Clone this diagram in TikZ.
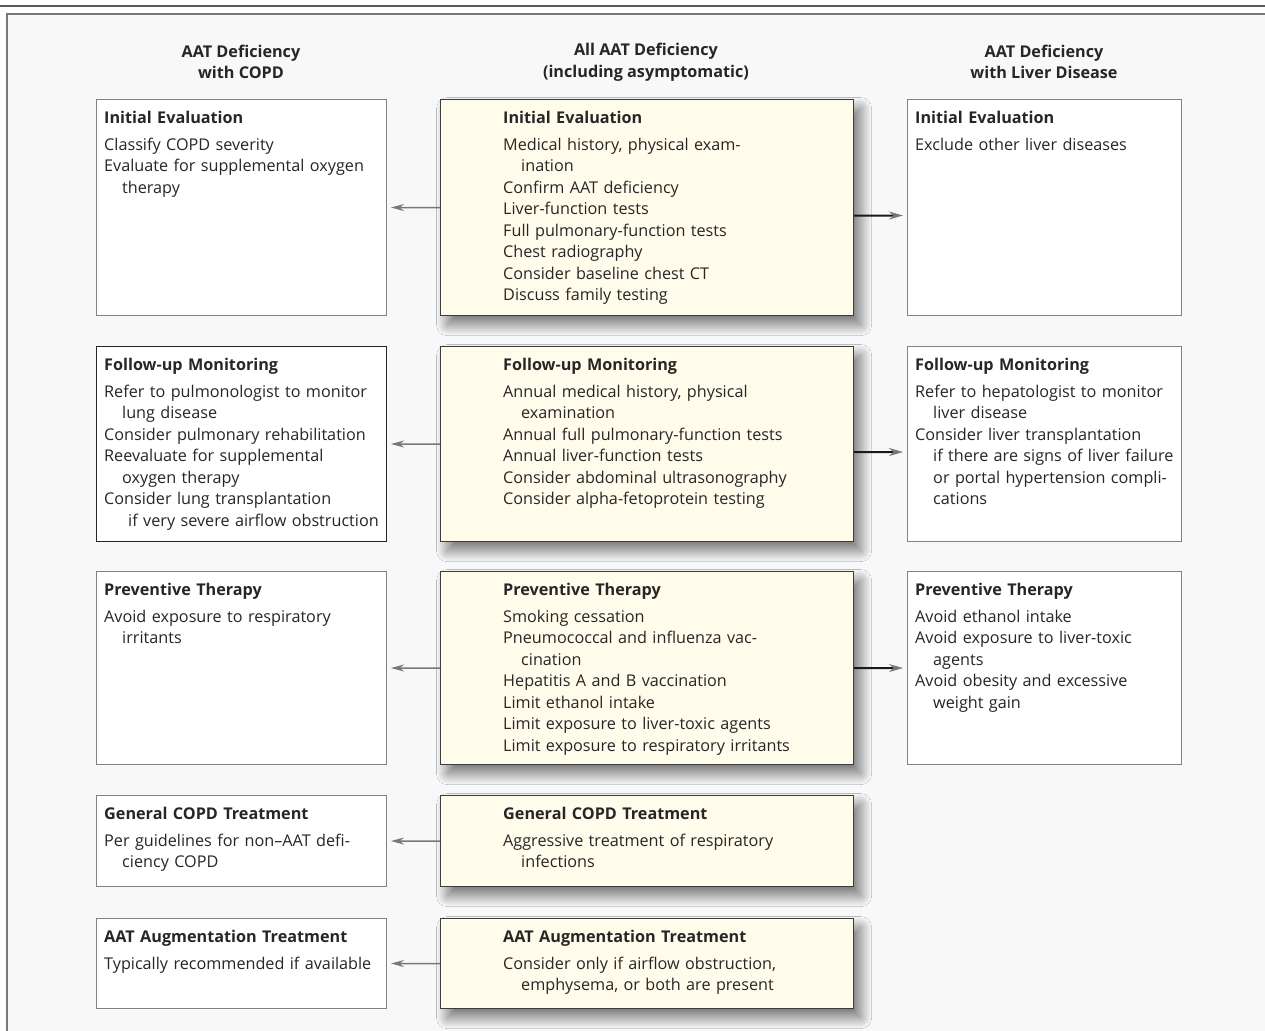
\documentclass[tikz,border=0pt]{standalone}
\usepackage{fontspec}
\setmainfont{Open Sans}
\usetikzlibrary{arrows.meta,calc,shadows.blur}
\definecolor{cream}{RGB}{255,252,236}
\definecolor{framebg}{RGB}{248,248,248}
\definecolor{linegray}{RGB}{120,120,120}
\definecolor{boxgray}{RGB}{130,130,130}
\definecolor{darkline}{RGB}{60,60,60}
\newcommand\itm[1]{\hangindent=18pt\hangafter=1 #1\par}
\newcommand\ttl[1]{\textbf{\strut #1}\par\vspace{5.5pt}}
\tikzset{
  sidebox/.style={draw=boxgray, line width=1pt, fill=white, inner sep=0pt, anchor=north west},
  midbox/.style={draw=darkline, line width=1.2pt, fill=cream, inner sep=0pt, anchor=north west,
     blur shadow={shadow xshift=7pt, shadow yshift=-9pt, shadow blur radius=11pt, shadow opacity=55, shadow blur steps=40}},
  txt/.style={anchor=north west, inner sep=0pt, text width=#1, align=left,
     font=\fontsize{16.2}{21.5}\selectfont, text=black!85},
  txt/.default=300pt,
  hdr/.style={align=center, inner sep=0pt, font=\bfseries\fontsize{16.2}{21.5}\selectfont, text=black!85},
  larrow/.style={draw=linegray, line width=1.5pt, -{Stealth[length=13pt,width=7pt,color=linegray]}},
  rarrow/.style={draw=black!90, line width=2pt, -{Stealth[length=14pt,width=8pt,color=linegray]}},
}
\begin{document}
\begin{tikzpicture}[x=1pt,y=-1pt]
\useasboundingbox (0,0) rectangle (1265,1030);
\fill[white] (0,0) rectangle (1265,1030);
\draw[line width=2.5pt, black!65] (0,6) -- (1265,6);
\fill[framebg] (7,14) rectangle (1270,1035);
\draw[line width=2pt, linegray] (7,1035) -- (7,14) -- (1270,14);

% headers
\node[hdr] (h1) at (241,62) {AAT Deficiency\\with COPD};
\node[hdr] (h2) at (646,62) {All AAT Deficiency\\(including asymptomatic)};
\node[hdr] (h3) at (1044,62) {AAT Deficiency\\with Liver Disease};

% Row 1
\node[sidebox, minimum width=290pt, minimum height=216pt] (L1) at (96,99) {};
\node[midbox, minimum width=413pt, minimum height=216pt] (M1) at (440,99) {};
\node[sidebox, minimum width=274pt, minimum height=216pt] (R1) at (907,99) {};
\node[txt=285pt] (L1t) at ($(L1.north west)+(8,9)$) {\ttl{Initial Evaluation}
\itm{Classify COPD severity}
\itm{Evaluate for supplemental oxygen\newline therapy}};
\node[txt=345pt] (M1t) at ($(M1.north west)+(63,9)$) {\ttl{Initial Evaluation}
\itm{Medical history, physical exam-\newline ination}
\itm{Confirm AAT deficiency}
\itm{Liver-function tests}
\itm{Full pulmonary-function tests}
\itm{Chest radiography}
\itm{Consider baseline chest CT}
\itm{Discuss family testing}};
\node[txt=270pt] (R1t) at ($(R1.north west)+(8,9)$) {\ttl{Initial Evaluation}
\itm{Exclude other liver diseases}};

% Row 2
\node[sidebox, draw=black!85, minimum width=290pt, minimum height=195pt] (L2) at (96,346) {};
\node[midbox, minimum width=413pt, minimum height=195pt] (M2) at (440,346) {};
\node[sidebox, minimum width=274pt, minimum height=195pt] (R2) at (907,346) {};
\node[txt=295pt] (L2t) at ($(L2.north west)+(8,9)$) {\ttl{Follow-up Monitoring}
\itm{Refer to pulmonologist to monitor\newline lung disease}
\itm{Consider pulmonary rehabilitation}
\itm{Reevaluate for supplemental\newline oxygen therapy}
\itm{Consider lung transplantation\newline \hspace*{6pt}if very severe airflow obstruction}};
\node[txt=345pt] (M2t) at ($(M2.north west)+(63,9)$) {\ttl{Follow-up Monitoring}
\itm{Annual medical history, physical\newline examination}
\itm{Annual full pulmonary-function tests}
\itm{Annual liver-function tests}
\itm{Consider abdominal ultrasonography}
\itm{Consider alpha-fetoprotein testing}};
\node[txt=275pt] (R2t) at ($(R2.north west)+(8,9)$) {\ttl{Follow-up Monitoring}
\itm{Refer to hepatologist to monitor\newline liver disease}
\itm{Consider liver transplantation\newline if there are signs of liver failure\newline or portal hypertension compli-\newline cations}};

% Row 3
\node[sidebox, minimum width=290pt, minimum height=193pt] (L3) at (96,571) {};
\node[midbox, minimum width=413pt, minimum height=193pt] (M3) at (440,571) {};
\node[sidebox, minimum width=274pt, minimum height=193pt] (R3) at (907,571) {};
\node[txt=285pt] (L3t) at ($(L3.north west)+(8,9)$) {\ttl{Preventive Therapy}
\itm{Avoid exposure to respiratory\newline irritants}};
\node[txt=345pt] (M3t) at ($(M3.north west)+(63,9)$) {\ttl{Preventive Therapy}
\itm{Smoking cessation}
\itm{Pneumococcal and influenza vac-\newline cination}
\itm{Hepatitis A and B vaccination}
\itm{Limit ethanol intake}
\itm{Limit exposure to liver-toxic agents}
\itm{Limit exposure to respiratory irritants}};
\node[txt=270pt] (R3t) at ($(R3.north west)+(8,9)$) {\ttl{Preventive Therapy}
\itm{Avoid ethanol intake}
\itm{Avoid exposure to liver-toxic\newline agents}
\itm{Avoid obesity and excessive\newline weight gain}};

% Row 4
\node[sidebox, minimum width=290pt, minimum height=91pt] (L4) at (96,795) {};
\node[midbox, minimum width=413pt, minimum height=91pt] (M4) at (440,795) {};
\node[txt=285pt] (L4t) at ($(L4.north west)+(8,9)$) {\ttl{General COPD Treatment}
\itm{Per guidelines for non–AAT defi-\newline ciency COPD}};
\node[txt=345pt] (M4t) at ($(M4.north west)+(63,9)$) {\ttl{General COPD Treatment}
\itm{Aggressive treatment of respiratory\newline infections}};

% Row 5
\node[sidebox, minimum width=290pt, minimum height=90pt] (L5) at (96,918) {};
\node[midbox, minimum width=413pt, minimum height=90pt] (M5) at (440,918) {};
\node[txt=285pt] (L5t) at ($(L5.north west)+(8,9)$) {\ttl{AAT Augmentation Treatment}
\itm{Typically recommended if available}};
\node[txt=345pt] (M5t) at ($(M5.north west)+(63,9)$) {\ttl{AAT Augmentation Treatment}
\itm{Consider only if airflow obstruction,\newline emphysema, or both are present}};

% arrows
\foreach \r in {1,...,5}{
  \draw[larrow, shorten >=4pt] (M\r.west) -- (L\r.east);
}
\foreach \r/\dy in {1/8,2/8,3/0}{
  \draw[rarrow, shorten >=4pt] ([yshift=-\dy pt]M\r.east) -- ([yshift=-\dy pt]R\r.west);
}
\end{tikzpicture}
\end{document}
